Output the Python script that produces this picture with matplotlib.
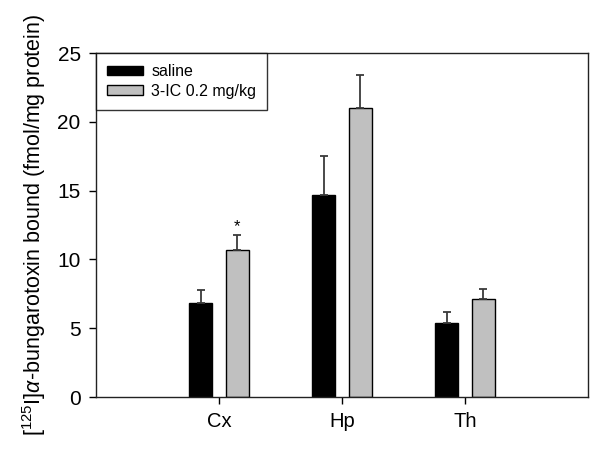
import matplotlib
matplotlib.use("Agg")
import matplotlib.pyplot as plt
import numpy as np

plt.rcParams['font.family'] = ['Liberation Sans', 'DejaVu Sans']
plt.rcParams['mathtext.fontset'] = 'custom'
plt.rcParams['mathtext.rm'] = 'Liberation Sans'
plt.rcParams['mathtext.it'] = 'Liberation Sans:italic'

categories = ['Cx', 'Hp', 'Th']
saline = [6.8, 14.7, 5.35]
saline_err = [1.0, 2.8, 0.8]
drug = [10.65, 20.97, 7.1]
drug_err = [1.1, 2.4, 0.75]
significant = [True, False, False]
series_labels = ['saline', '3-IC 0.2 mg/kg']
yticks = [0, 5, 10, 15, 20, 25]

fig = plt.figure(figsize=(6.0, 4.53), dpi=100)
ax = fig.add_axes([0.16, 0.1236, 0.82, 0.7594])

x = np.arange(1, len(categories) + 1)
off = 0.15
w = 0.19
ek = dict(ecolor='#3a3a3a', elinewidth=1.3, capsize=3, capthick=1.3)
ax.bar(x - off, saline, w, color='black', edgecolor='black', linewidth=1,
       yerr=[np.zeros(len(saline)), saline_err], error_kw=ek, label=series_labels[0], zorder=2)
ax.bar(x + off, drug, w, color='#c0c0c0', edgecolor='black', linewidth=1,
       yerr=[np.zeros(len(drug)), drug_err], error_kw=ek, label=series_labels[1], zorder=2)

for xi, d, e, s in zip(x, drug, drug_err, significant):
    if s:
        ax.text(xi + off, d + e + 0.3, '*', ha='center', va='baseline', fontsize=12)

ax.set_xlim(0, 4)
ax.set_ylim(0, 25)
ax.set_xticks(x)
ax.set_xticklabels(categories, fontsize=14.5)
ax.set_yticks(yticks)
ax.set_yticklabels([str(t) for t in yticks], fontsize=15)
ax.tick_params(axis='both', direction='out', length=5, width=1, pad=6)
for sp in ax.spines.values():
    sp.set_linewidth(1)
    sp.set_color('#222222')

ax.set_ylabel(r'[$^{125}$I]$\alpha$-bungarotoxin bound (fmol/mg protein)', fontsize=15.5, labelpad=7)

leg = ax.legend(loc='upper left', borderaxespad=0, fontsize=11.5, frameon=True, fancybox=False,
                edgecolor='black', handlelength=2.25, handleheight=0.56, handletextpad=0.5,
                borderpad=0.7, labelspacing=0.3)
leg.get_frame().set_linewidth(1)

fig.savefig('out.png', dpi=100)
